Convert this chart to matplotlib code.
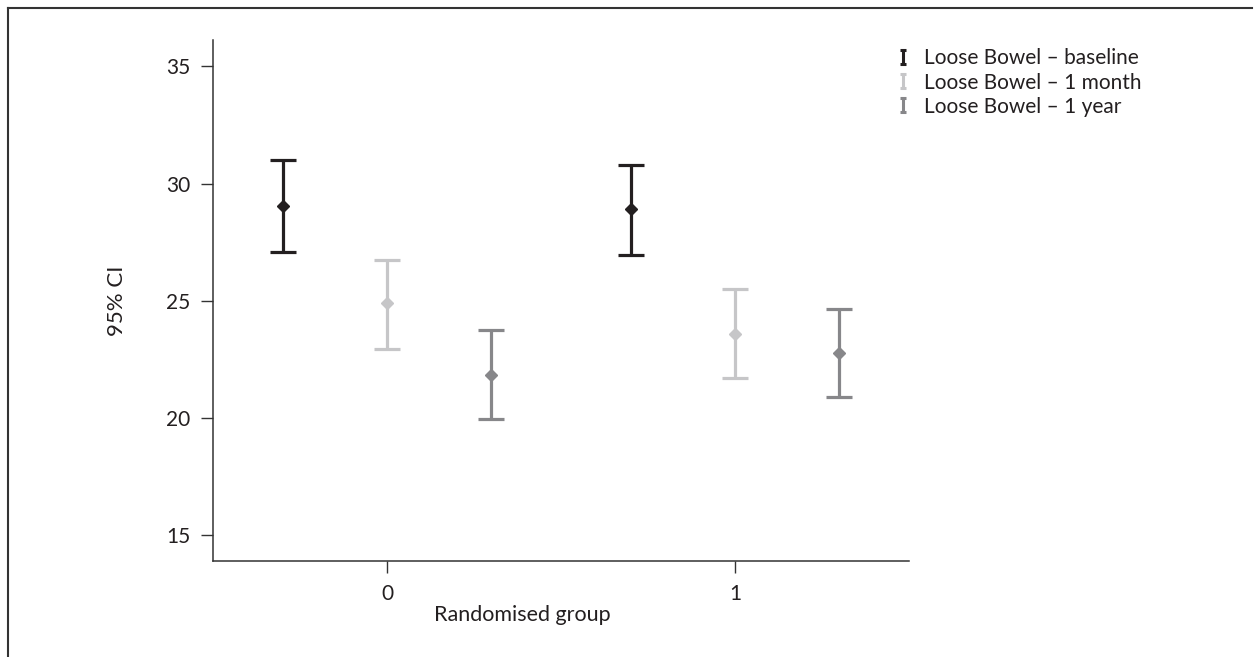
import numpy as np
import matplotlib
matplotlib.use("Agg")
import matplotlib.pyplot as plt
from matplotlib.lines import Line2D
from matplotlib.path import Path

plt.rcParams['font.family'] = ['Lato', 'DejaVu Sans']

# groups on the x axis and the three time points
groups = [0, 1]
series = ["Loose Bowel \u2013 baseline", "Loose Bowel \u2013 1 month", "Loose Bowel \u2013 1 year"]
offsets = [-0.3, 0.0, 0.3]
colours = ["#231f20", "#c6c6c8", "#87878a"]

# mean and 95% CI limits per group
base_mean = [29.05, 28.9]
base_lo = [27.1, 26.95]
base_hi = [31.0, 30.8]
month_mean = [24.9, 23.6]
month_lo = [22.95, 21.7]
month_hi = [26.75, 25.5]
year_mean = [21.85, 22.75]
year_lo = [19.95, 20.9]
year_hi = [23.75, 24.65]

means = [base_mean, month_mean, year_mean]
los = [base_lo, month_lo, year_lo]
his = [base_hi, month_hi, year_hi]

fig = plt.figure(figsize=(12.6, 6.57), dpi=100)
ax = fig.add_axes([213/1260, 1-561/657, (909-213)/1260, (561-40)/657])

for k in range(3):
    x = np.array(groups) + offsets[k]
    m = np.array(means[k])
    err = [m - np.array(los[k]), np.array(his[k]) - m]
    ax.errorbar(x, m, yerr=err, fmt='none', ecolor=colours[k],
                elinewidth=2.3, capsize=9.5, capthick=2.3)
    ax.plot(x, m, 'D', color=colours[k], markersize=6.5, zorder=3)

ax.set_xlim(-0.5, 1.5)
ax.set_ylim(13.89, 36.13)
ax.set_xticks(groups)
ax.set_yticks([15, 20, 25, 30, 35])
ax.set_xticklabels(["0", "1"])
for s in ['top', 'right']:
    ax.spines[s].set_visible(False)
for s in ['left', 'bottom']:
    ax.spines[s].set_linewidth(1.1)
    ax.spines[s].set_color("#333333")
ax.tick_params(length=8.5, width=1.0, color="#333333", labelsize=15,
               labelcolor="#231f20", pad=8)
ax.set_xlabel("Randomised group", fontsize=15.5, color="#231f20")
ax.xaxis.set_label_coords((522-213)/696, -44/521)
ax.set_ylabel("95% CI", fontsize=16, color="#231f20")
ax.yaxis.set_label_coords(-(213-127)/696, 0.5)

# "I" shaped legend glyph
ibar = Path([(-0.5, 1), (0.5, 1), (0, 1), (0, -1), (-0.5, -1), (0.5, -1)],
            [Path.MOVETO, Path.LINETO, Path.MOVETO, Path.LINETO, Path.MOVETO, Path.LINETO])
handles = [Line2D([], [], linestyle='none', marker=ibar, markersize=10,
                  markeredgewidth=2.2, markeredgecolor=c, markerfacecolor='none')
           for c in colours]
fig.legend(handles, series, loc='upper left', bbox_to_anchor=(884/1260, 1-38/657),
           frameon=False, fontsize=15, handlelength=0.8, handletextpad=0.6,
           labelspacing=0.2, borderpad=0, labelcolor="#231f20")

# frame lines round the panel
fig.add_artist(Line2D([8/1260, 8/1260], [0, 1-8/657], color="#333333", lw=1.5))
fig.add_artist(Line2D([8/1260, 1252/1260], [1-8/657, 1-8/657], color="#333333", lw=1.5))

fig.savefig("out.png", dpi=100)
